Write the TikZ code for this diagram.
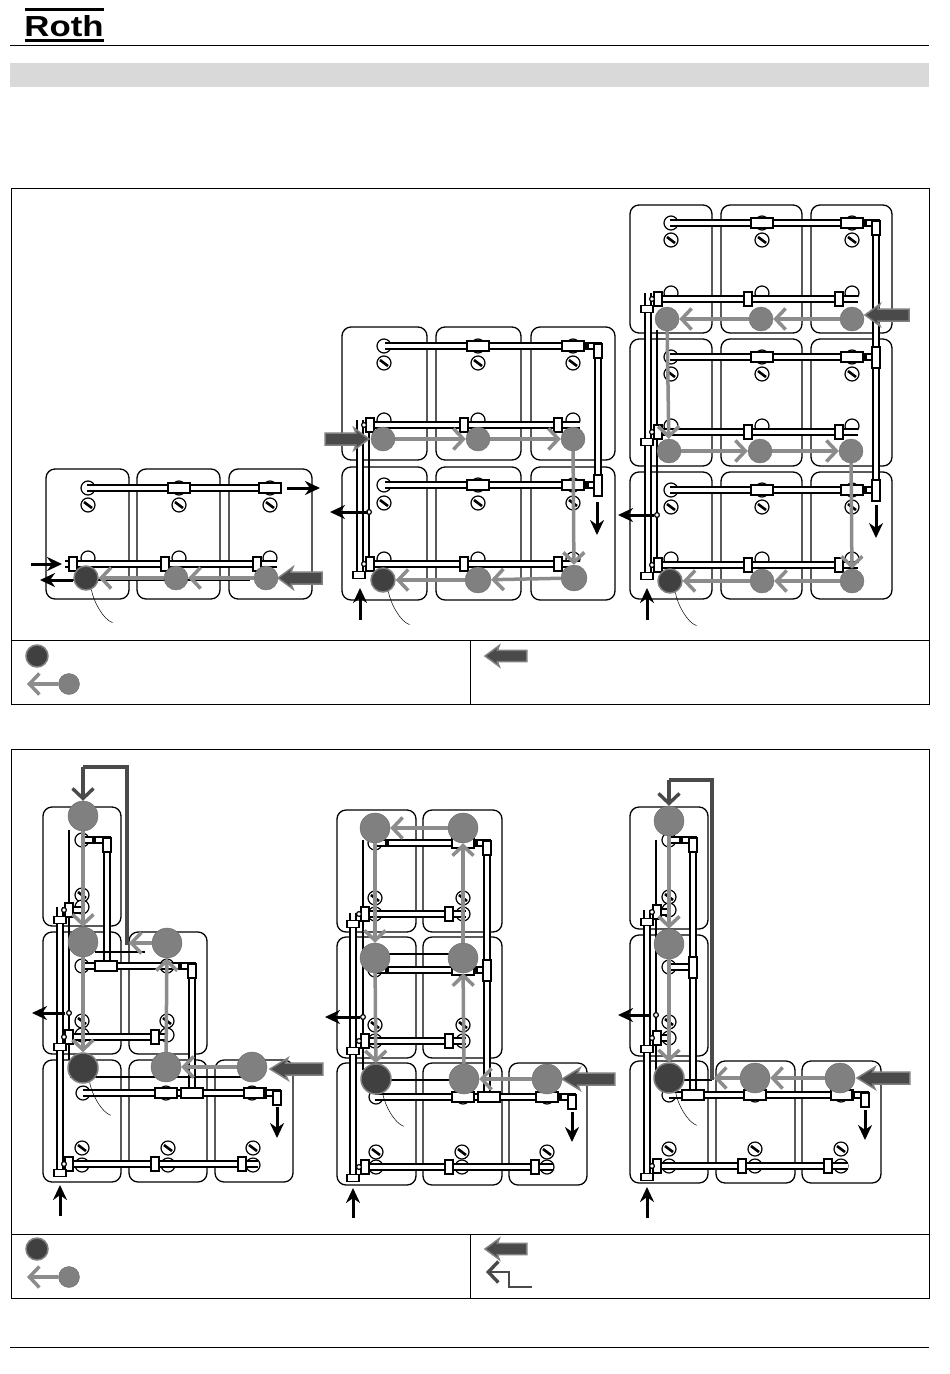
\documentclass[tikz,border=0pt]{standalone}
\usepackage{fontspec}
\newfontfamily\rothfont{Liberation Sans}
\usetikzlibrary{arrows.meta,calc}
\definecolor{pumpgrey}{HTML}{808080}
\definecolor{pumpdark}{HTML}{404040}
\definecolor{flowgrey}{HTML}{8C8C8C}
\definecolor{fatgrey}{HTML}{4A4A4A}
\tikzset{
    tank/.style={draw=black,line width=1.3pt,rounded corners=9pt},
    pipe/.style={draw=black,line width=1.3pt,double=white,double distance=4.8pt},
    fitting/.style={draw=black,fill=white,line width=1.4pt},
    ring/.style={draw=black,fill=white,line width=1.2pt},
    slash/.style={draw=black,line width=2.6pt},
    collector/.style={draw=black,line width=2.2pt},
    pump/.style={circle,inner sep=0pt,minimum size=#1,fill=pumpgrey,draw=pumpgrey!85!black},
    pump/.default=24pt,
    lastpump/.style={pump=#1,fill=pumpdark,draw=pumpgrey,line width=1.5pt},
    lastpump/.default=24pt,
    flow/.style={draw=flowgrey,line width=3.5pt,-{Straight Barb[length=10pt,width=21pt,line width=3.5pt]}},
    feed/.style={draw=black,line width=3pt,-{Stealth[length=15pt,width=14pt]}},
    bypass/.style={draw=fatgrey,line width=3.4pt},
    bypassend/.style={draw=fatgrey,line width=3.4pt,-{Straight Barb[length=10pt,width=21pt,line width=3.4pt]}},
    sensor/.style={draw=black,line width=0.5pt},
    frame/.style={draw=black,line width=1pt},
    fatarrow/.pic={\filldraw[fill=fatgrey,draw=pumpgrey,line width=1.5pt] (0,0) -- (15,-11) -- (13,-6) -- (44,-6) -- (44,6) -- (13,6) -- (15,11) -- cycle;}
}
\newcommand{\tank}[4]{\draw[tank] (#1,#2) rectangle (#3,#4);}
\newcommand{\valve}[2]{\draw[ring] (#1,#2) circle[radius=7]; \draw[slash] ($(#1,#2)+(-4,-3)$) -- ++(8,6);}
\newcommand{\joint}[2]{\draw[ring] (#1,#2) circle[radius=7];}
\newcommand{\wide}[2]{\draw[fitting] ($(#1,#2)+(-11,-5)$) rectangle ++(22,10);}
\newcommand{\tall}[2]{\draw[fitting] ($(#1,#2)+(-4,-7)$) rectangle ++(8,14);}
\newcommand{\collar}[2]{\draw[fitting] ($(#1,#2)+(-6,-3.5)$) rectangle ++(12,7);}
\newcommand{\tee}[2]{\draw[fitting] ($(#1,#2)+(-4,-10)$) rectangle ++(8,21);}
\newcommand{\nut}[2]{\fill ($(#1,#2)+(-2,-4)$) rectangle ++(4,8);}
\newcommand{\feedline}[5]{\coordinate (#1s) at (#2,#3); \coordinate (#1e) at (#4,#5); \draw[feed] (#1s) -- (#1e);}
\newcommand{\bulb}[1]{\draw[sensor] (#1.-65) .. controls +(2,12) and +(-9,-3) .. ++(21,33);}
\newcommand{\plug}[2]{\draw[ring] (#1,#2) circle[radius=2.4];}

\begin{document}
\begin{tikzpicture}[x=1pt,y=-1pt]
    \useasboundingbox (0,0) rectangle (950,1374);

    % page head and foot
    \draw[line width=1pt] (10,45) -- (929,45);
    \fill[black!15] (10,63) rectangle (929,87);
    \draw[line width=1pt] (10,1347) -- (929,1347);
    \fill (25,7.5) rectangle (104,10.5);
    \fill (25,39) rectangle (104,42);
    \node[inner sep=0pt,xscale=1.2,anchor=center,font=\rothfont\bfseries\fontsize{29}{29}\selectfont] (logo) at (64,26.5) {Roth};

    % boxes
    \draw[frame] (11,188) rectangle (929,704);
    \draw[frame] (11,640) -- (929,640);
    \draw[frame] (470,640) -- (470,704);
    \draw[frame] (11,749) rectangle (929,1298);
    \draw[frame] (11,1234) -- (929,1234);
    \draw[frame] (470,1234) -- (470,1298);

    % one row
    \foreach \xa/\xb in {46/129,137/220,229/312} {\tank{\xa}{469}{\xb}{599}}
    \foreach \px in {88,179,270} {\valve{\px}{505} \joint{\px}{488} \joint{\px}{558}}
    \draw[pipe] (87,488) -- (282,488);
    \draw[pipe] (65,564) -- (277,564);
    \wide{179}{488} \wide{270}{488}
    \foreach \px in {73,165,257} {\tall{\px}{564}}
    \draw[collector] (73,580) -- (250,580);
    \node[lastpump] (a1) at (86,578) {};
    \node[pump] (a2) at (176,578) {};
    \node[pump] (a3) at (266,578) {};
    \bulb{a1}
    \draw[flow] (a3) -- (a2);
    \draw[flow] (a2) -- (a1);
    \pic at (278,578) {fatarrow};
    \feedline{aa}{287}{488}{320}{488}
    \feedline{ab}{31}{564}{62}{564}
    \feedline{ac}{73}{580}{40}{580}

    % two rows
    \foreach \ya/\yb in {327/460,467/600} \foreach \xa/\xb in {342/427,436/521,531/615} {\tank{\xa}{\ya}{\xb}{\yb}}
    \foreach \px in {384,478,573} {\valve{\px}{363} \joint{\px}{346} \valve{\px}{503} \joint{\px}{485} \joint{\px}{420} \joint{\px}{559}}
    \draw[pipe] (385,346) -| (598,485);
    \draw[pipe] (385,485) -- (598,485);
    \draw[pipe] (370,425) -- (580,425);
    \draw[pipe] (370,564) -- (580,564);
    \draw[pipe] (360,420) -- (360,578);
    \draw[collector] (369,430) -- (369,570);
    \foreach \px in {478,573} {\wide{\px}{346} \wide{\px}{485}}
    \foreach \py in {425,564} \foreach \px in {370,464,558} {\tall{\px}{\py}}
    \foreach \py in {346,485} {\nut{587}{\py}}
    \tee{598}{485} \tall{598}{351}
    \collar{359}{575}
    \plug{369}{512} \plug{364}{425} \plug{364}{564}
    \node[pump] (b1) at (383,439) {};
    \node[pump] (b2) at (478,439) {};
    \node[pump] (b3) at (573,439) {};
    \node[lastpump] (b4) at (383,580) {};
    \node[pump=26pt] (b5) at (478,580) {};
    \node[pump=26pt] (b6) at (574,578) {};
    \bulb{b4}
    \draw[flow] (b1) -- (b2);
    \draw[flow] (b2) -- (b3);
    \draw[flow] (b3) -- (b6);
    \draw[flow] (b6) -- (b5);
    \draw[flow] (b5) -- (b4);
    \pic[xscale=-1] at (369,439) {fatarrow};
    \feedline{ba}{368}{512}{330}{512}
    \feedline{bb}{360}{620}{360}{588}
    \feedline{bc}{597}{502}{597}{535}

    % three rows
    \foreach \ya/\yb in {205/333,339/466,472/599} \foreach \xa/\xb in {630/712,721/802,811/892} {\tank{\xa}{\ya}{\xb}{\yb}}
    \foreach \py in {223,357,490} \foreach \px in {671,762,852} {\valve{\px}{\py+17} \joint{\px}{\py}}
    \foreach \py in {293,426,559} \foreach \px in {671,762,852} {\joint{\px}{\py}}
    \draw[pipe] (670,223) -| (876,490);
    \draw[pipe] (670,357) -- (876,357);
    \draw[pipe] (670,490) -- (876,490);
    \foreach \py in {299,432,565} {\draw[pipe] (658,\py) -- (858,\py);}
    \draw[pipe] (648,293) -- (648,578);
    \draw[collector] (657,330) -- (657,570);
    \foreach \py in {223,357,490} {\wide{762}{\py} \wide{852}{\py} \nut{865}{\py}}
    \foreach \py in {299,432,565} \foreach \px in {658,748,839} {\tall{\px}{\py}}
    \tee{876}{357} \tee{876}{490} \tall{876}{228}
    \foreach \py in {309,442,576} {\collar{647}{\py}}
    \plug{657}{515} \plug{652}{299} \plug{652}{432} \plug{652}{565}
    \node[pump] (c1) at (667,319) {};
    \node[pump] (c2) at (761,319) {};
    \node[pump] (c3) at (852,319) {};
    \node[pump] (c4) at (669,451) {};
    \node[pump] (c5) at (760,451) {};
    \node[pump] (c6) at (851,451) {};
    \node[lastpump] (c7) at (670,581) {};
    \node[pump] (c8) at (762,581) {};
    \node[pump] (c9) at (852,581) {};
    \bulb{c7}
    \draw[flow] (c3) -- (c2);
    \draw[flow] (c2) -- (c1);
    \draw[flow] (c1) -- (c4);
    \draw[flow] (c4) -- (c5);
    \draw[flow] (c5) -- (c6);
    \draw[flow] (c6) -- (c9);
    \draw[flow] (c9) -- (c8);
    \draw[flow] (c8) -- (c7);
    \pic at (865,315) {fatarrow};
    \feedline{ca}{654}{515}{618}{515}
    \feedline{cb}{647}{620}{647}{588}
    \feedline{cc}{876}{505}{876}{538}

    % first corner layout
    \tank{43}{807}{121}{926}
    \foreach \xa/\xb in {43/121,129/207} {\tank{\xa}{932}{\xb}{1054}}
    \foreach \xa/\xb in {43/121,129/207,215/293} {\tank{\xa}{1060}{\xb}{1182}}
    \foreach \px/\py in {82/895,82/1021,167/1021,82/1148,168/1148,253/1148} {\valve{\px}{\py}}
    \foreach \px/\py in {82/840,82/907,82/966,167/966,82/1035,167/1035,83/1093,166/1093,252/1093,82/1165,168/1165,253/1165} {\joint{\px}{\py}}
    \draw[pipe] (83,840) -| (107,966);
    \draw[pipe] (83,966) -| (192,1093);
    \draw[pipe] (83,1093) -| (277,1103);
    \draw[pipe] (69,910) -- (82,910);
    \draw[pipe] (69,1037) -- (167,1037);
    \draw[pipe] (69,1164) -- (258,1164);
    \draw[pipe] (60,907) -- (60,1177);
    \draw[collector] (69,830) -- (69,1060);
    \draw[collector] (70,1077) -- (250,1077);
    \draw[line width=1.3pt] (95,952) -- (145,952);
    \wide{166}{1093} \wide{192}{1093} \wide{255}{1093} \wide{106}{966}
    \tall{107}{845} \tall{192}{971} \tall{277}{1098}
    \foreach \px/\py in {94/840,180/966,265/1093} {\nut{\px}{\py}}
    \foreach \px/\py in {69/910,69/1037,155/1037,69/1164,155/1164,242/1164} {\tall{\px}{\py}}
    \foreach \py in {920,1047,1173} {\collar{60}{\py}}
    \plug{69}{1013} \plug{64}{910} \plug{64}{1037} \plug{64}{1164}
    \node[pump=30pt] (d1) at (83,816) {};
    \node[pump=30pt] (d2) at (83,942) {};
    \node[lastpump=30pt] (d3) at (83,1068) {};
    \node[pump=30pt] (d4) at (167,943) {};
    \node[pump=30pt] (d5) at (166,1067) {};
    \node[pump=30pt] (d6) at (252,1067) {};
    \bulb{d3}
    \coordinate (dt) at (129,943);
    \coordinate (dc) at (83,767);
    \draw[flow] (d6) -- (d5);
    \draw[flow] (d5) -- (d4);
    \draw[flow] (d4) -- (dt);
    \draw[bypass] (dt) -| (127,767) -- (dc);
    \draw[bypassend] (dc) -- (d1);
    \draw[flow] (d1) -- (d2);
    \draw[flow] (d2) -- (d3);
    \pic[xscale=1.2] at (270,1069) {fatarrow};
    \feedline{da}{65}{1013}{32}{1013}
    \feedline{db}{60}{1216}{60}{1185}
    \feedline{dc}{277}{1107}{277}{1138}

    % second corner layout
    \foreach \ya/\yb in {810/932,937/1058,1063/1185} \foreach \xa/\xb in {337/416,423/502} {\tank{\xa}{\ya}{\xb}{\yb}}
    \tank{509}{1063}{587}{1185}
    \foreach \px/\py in {375/898,463/898,375/1025,463/1025,376/1152,462/1152,547/1152} {\valve{\px}{\py}}
    \foreach \px/\py in {375/843,463/843,375/914,463/914,375/970,463/970,375/1041,463/1041,376/1097,463/1097,547/1097,376/1167,462/1167,547/1167} {\joint{\px}{\py}}
    \draw[pipe] (375,843) -| (487,1097);
    \draw[pipe] (375,970) -- (487,970);
    \draw[pipe] (375,1097) -| (572,1107);
    \draw[pipe] (365,914) -- (466,914);
    \draw[pipe] (365,1041) -- (466,1041);
    \draw[pipe] (365,1167) -- (553,1167);
    \draw[pipe] (353,913) -- (353,1180);
    \draw[collector] (363,840) -- (363,1070);
    \draw[collector] (375,954) -- (463,954);
    \draw[collector] (376,1080) -- (464,1080);
    \foreach \px/\py in {463/843,463/970,463/1097,547/1097} {\wide{\px}{\py}}
    \tall{487}{848} \tee{487}{970} \tall{572}{1102} \wide{489}{1097}
    \foreach \px/\py in {387/843,476/843,387/970,476/970,560/1097} {\nut{\px}{\py}}
    \foreach \px/\py in {365/914,449/914,365/1041,449/1041,365/1167,449/1167,535/1167} {\tall{\px}{\py}}
    \foreach \py in {924,1051,1178} {\collar{353}{\py}}
    \plug{363}{1017} \plug{359}{914} \plug{359}{1041} \plug{359}{1167}
    \node[pump=30pt] (e1) at (375,828) {};
    \node[pump=30pt] (e2) at (463,828) {};
    \node[pump=30pt] (e3) at (375,958) {};
    \node[pump=30pt] (e4) at (463,958) {};
    \node[lastpump=30pt] (e5) at (376,1079) {};
    \node[pump=30pt] (e6) at (464,1079) {};
    \node[pump=30pt] (e7) at (547,1079) {};
    \bulb{e5}
    \draw[flow] (e7) -- (e6);
    \draw[flow] (e6) -- (e4);
    \draw[flow] (e4) -- (e2);
    \draw[flow] (e2) -- (e1);
    \draw[flow] (e1) -- (e3);
    \draw[flow] (e3) -- (e5);
    \pic[xscale=1.2] at (562,1079) {fatarrow};
    \feedline{ea}{360}{1017}{325}{1017}
    \feedline{eb}{353}{1218}{353}{1188}
    \feedline{ec}{572}{1112}{572}{1142}

    % third corner layout
    \tank{630}{807}{708}{929}
    \tank{630}{935}{708}{1056}
    \foreach \xa/\xb in {630/708,716/795,802/881} {\tank{\xa}{1061}{\xb}{1183}}
    \foreach \px/\py in {669/897,669/1022,669/1149,755/1149,841/1149} {\valve{\px}{\py}}
    \foreach \px/\py in {669/840,669/910,669/967,669/1038,669/1095,755/1095,841/1095,669/1166,755/1166,841/1166} {\joint{\px}{\py}}
    \draw[pipe] (669,840) -| (693,1095);
    \draw[pipe] (669,967) -- (693,967);
    \draw[pipe] (669,1095) -| (865,1105);
    \draw[pipe] (653,912) -- (669,912);
    \draw[pipe] (653,1038) -- (669,1038);
    \draw[pipe] (653,1166) -- (848,1166);
    \draw[pipe] (647,910) -- (647,1180);
    \draw[collector] (656,840) -- (656,1070);
    \draw[collector] (680,1080) -- (712,1080);
    \foreach \px/\py in {693/1095,755/1095,842/1095} {\wide{\px}{\py}}
    \tee{693}{967} \tall{693}{845} \tall{865}{1100}
    \foreach \px/\py in {681/840,853/1095} {\nut{\px}{\py}}
    \foreach \px/\py in {657/912,657/1038,657/1166,742/1166,828/1166} {\tall{\px}{\py}}
    \foreach \py in {922,1049,1177} {\collar{647}{\py}}
    \plug{656}{1015} \plug{652}{912} \plug{652}{1038} \plug{652}{1166}
    \node[pump=30pt] (f1) at (669,821) {};
    \node[pump=30pt] (f2) at (669,944) {};
    \node[lastpump=30pt] (f3) at (669,1078) {};
    \node[pump=30pt] (f4) at (755,1078) {};
    \node[pump=30pt] (f5) at (840,1078) {};
    \bulb{f3}
    \coordinate (ft) at (714,1078);
    \coordinate (fc) at (669,780);
    \draw[flow] (f5) -- (f4);
    \draw[flow] (f4) -- (ft);
    \draw[bypass] (ft) -| (712,780) -- (fc);
    \draw[bypassend] (fc) -- (f1);
    \draw[flow] (f1) -- (f2);
    \draw[flow] (f2) -- (f3);
    \pic[xscale=1.2] at (857,1078) {fatarrow};
    \feedline{fa}{650}{1015}{618}{1015}
    \feedline{fb}{647}{1218}{647}{1187}
    \feedline{fc}{865}{1110}{865}{1140}

    % legends
    \foreach \ly/\lname in {656/g,1249/h} {
        \node[lastpump=22pt] (\lname1) at (37,\ly) {};
        \node[pump=21pt] (\lname2) at (69,\ly+28) {};
        \coordinate (\lname3) at (27,\ly+28);
        \draw[flow] (\lname2) -- (\lname3);
        \pic[scale=0.95] at (485,\ly) {fatarrow};
    }
    \coordinate (h4) at (532,1287);
    \coordinate (h5) at (486,1272);
    \draw[bypassend,line width=2.6pt] (h4) -- (509,1287) -- (509,1272) -- (h5);
\end{tikzpicture}
\end{document}
